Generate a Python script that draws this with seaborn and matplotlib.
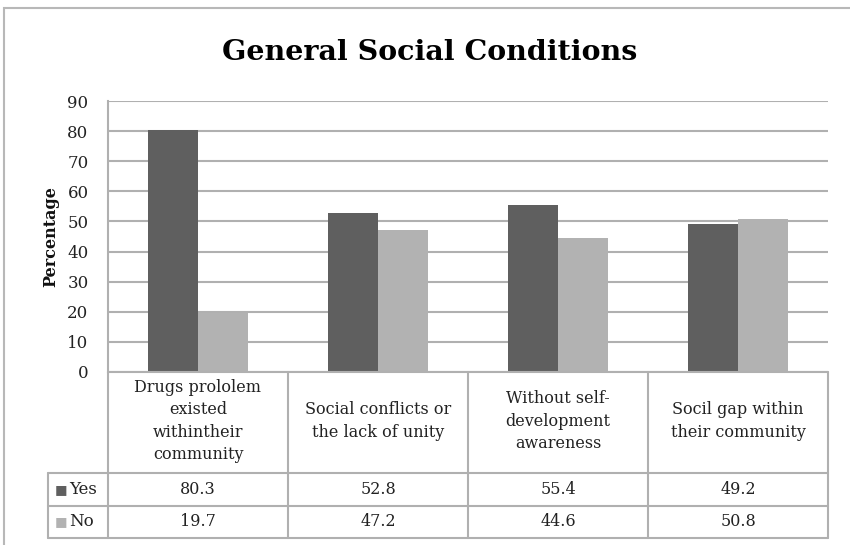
import matplotlib
matplotlib.use("Agg")
import matplotlib.pyplot as plt
import matplotlib.transforms as mtransforms
from matplotlib.patches import Rectangle
import seaborn as sns
import pandas as pd

categories = ["Drugs prololem\nexisted\nwithintheir\ncommunity",
              "Social conflicts or\nthe lack of unity",
              "Without self-\ndevelopment\nawareness",
              "Socil gap within\ntheir community"]
series_names = ["Yes", "No"]
yes_values = [80.3, 52.8, 55.4, 49.2]
no_values = [19.7, 47.2, 44.6, 50.8]
yticks = [0, 10, 20, 30, 40, 50, 60, 70, 80, 90]

colors = {"Yes": "#5f5f5f", "No": "#b2b2b2"}
grid_c = "#b0b0b0"
txt_c = "#222222"

df = pd.DataFrame({
    "cat": categories * 2,
    "series": ["Yes"] * 4 + ["No"] * 4,
    "value": yes_values + no_values,
})

sns.set_theme(style="white")
plt.rcParams["font.family"] = ["DejaVu Serif", "DejaVu Sans"]

W, H = 850, 545
fig = plt.figure(figsize=(8.5, 5.45), dpi=100)
L, R, T, B = 108, 828, 101, 372
ax = fig.add_axes([L / W, 1 - B / H, (R - L) / W, (B - T) / H])

sns.barplot(data=df, x="cat", y="value", hue="series", palette=colors,
            width=0.56, ax=ax, legend=False, saturation=1,
            edgecolor="none", linewidth=0)

ax.set_xlim(-0.5, 3.5)
ax.set_ylim(0, 90)
ax.set_yticks(yticks)
ax.set_yticklabels([str(t) for t in yticks], fontsize=12, color=txt_c)
ax.set_xticks([])
ax.set_xlabel("")
ax.set_ylabel("Percentage", fontsize=11.5, fontweight="bold", labelpad=6,
              color="#111111")
ax.yaxis.grid(True, color=grid_c, linewidth=1.5)
ax.set_axisbelow(True)
ax.tick_params(axis="y", length=0, pad=14)
for s in ["top", "right", "bottom"]:
    ax.spines[s].set_visible(False)
ax.spines["left"].set_color(grid_c)
ax.spines["left"].set_linewidth(1.5)

# Data table below the axes
trans = mtransforms.blended_transform_factory(ax.transData, ax.transAxes)
ah = B - T
y_head = -(473 - B) / ah
y_yes = -(506 - B) / ah
y_no = -(538 - B) / ah
x_leg = -0.5 - 60 / 180.0
lk = dict(color=grid_c, linewidth=1.5, transform=trans, clip_on=False)
ax.plot([-0.5, 3.5], [0, 0], **lk)
for yy in [y_head, y_yes, y_no]:
    ax.plot([x_leg, 3.5], [yy, yy], **lk)
for xx in [-0.5, 0.5, 1.5, 2.5, 3.5]:
    ax.plot([xx, xx], [0, y_no], **lk)
ax.plot([x_leg, x_leg], [y_head, y_no], **lk)

for i, c in enumerate(categories):
    ax.text(i, y_head / 2 + 0.005, c, transform=trans, ha="center", va="center",
            fontsize=11.5, color=txt_c, linespacing=1.42, clip_on=False)
    ax.text(i, (y_head + y_yes) / 2, f"{yes_values[i]:.1f}", transform=trans,
            ha="center", va="center", fontsize=11.5, color=txt_c)
    ax.text(i, (y_yes + y_no) / 2, f"{no_values[i]:.1f}", transform=trans,
            ha="center", va="center", fontsize=11.5, color=txt_c)

for name, y0, y1 in [("Yes", y_head, y_yes), ("No", y_yes, y_no)]:
    ym = (y0 + y1) / 2
    ax.text(x_leg + 0.04, ym, "\u25A0", transform=trans, ha="left", va="center",
            fontsize=9.5, color=colors[name], family="DejaVu Sans")
    ax.text(x_leg + 0.12, ym, name, transform=trans, ha="left", va="center",
            fontsize=12, color=txt_c)

fig.text(430 / W, 1 - 52 / H, "General Social Conditions", ha="center",
         va="center", fontsize=20.5, fontweight="bold", color="#000000")

fig.patches.append(Rectangle((4 / W, -0.05), 1.1, 1 - 8 / H + 0.05,
                             transform=fig.transFigure, fill=False,
                             edgecolor="#b8b8b8", linewidth=1.5))

fig.savefig("out.png", dpi=100)
